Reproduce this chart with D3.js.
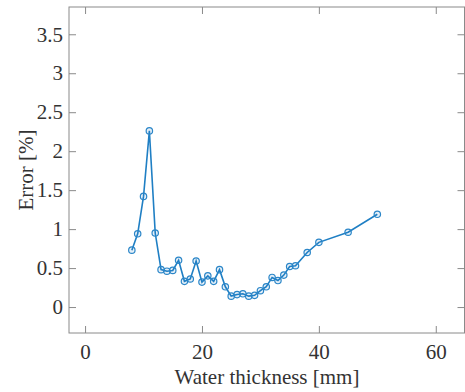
<!DOCTYPE html>
<html>
<head>
<meta charset="utf-8">
<script src="https://cdn.jsdelivr.net/npm/d3@7"></script>
<style>
  body { margin: 0; background: #fff; }
  svg text { font-family: "Liberation Serif", "DejaVu Serif", serif !important; fill: #333; }
</style>
</head>
<body>
<script>
// data
var thickness = [8, 9, 10, 11, 12, 13, 14, 15, 16, 17, 18, 19, 20, 21, 22, 23, 24,
                 25, 26, 27, 28, 29, 30, 31, 32, 33, 34, 35, 36, 38, 40, 45, 50];
var errorPct = [0.73, 0.94, 1.42, 2.26, 0.95, 0.48, 0.46, 0.47, 0.60, 0.33, 0.36, 0.59, 0.32, 0.40, 0.33, 0.48, 0.26,
                0.14, 0.16, 0.17, 0.14, 0.15, 0.21, 0.26, 0.38, 0.34, 0.41, 0.52, 0.53, 0.70, 0.83, 0.96, 1.19];
var xTicks = [0, 20, 40, 60];
var yTicks = [0, 0.5, 1, 1.5, 2, 2.5, 3, 3.5];

var W = 465, H = 392;
// plot box edges in pixels
var box = {left: 69, right: 465, top: 7, bottom: 333};
var serif = 'Liberation Serif';

var svg = d3.select('body')
  .append('svg')
    .attr('width', W)
    .attr('height', H);

var x = d3.scaleLinear().domain([-2.75, 65]).range([box.left, box.right]);
var y = d3.scaleLinear().domain([-0.333, 3.85]).range([box.bottom, box.top]);

var axisColor = '#8a8a8a';
var tickLen = 7;
var fmt = d3.format('~g');

// box
svg.append('rect')
  .attr('x', box.left).attr('y', box.top)
  .attr('width', box.right - box.left - 0.5).attr('height', box.bottom - box.top)
  .attr('fill', 'none')
  .attr('stroke', axisColor)
  .attr('stroke-width', 1);

// bottom axis, ticks inward
var gx = svg.append('g')
  .attr('transform', 'translate(0,' + box.bottom + ')')
  .call(d3.axisBottom(x).tickValues(xTicks).tickFormat(fmt).tickSizeInner(-tickLen).tickSizeOuter(0).tickPadding(11))
  .attr('font-family', serif)
  .attr('font-size', 21);
gx.select('.domain').remove();
gx.selectAll('line').attr('stroke', axisColor);
gx.selectAll('text').attr('fill', '#333').style('font-family', serif);

// top ticks
var gxt = svg.append('g')
  .attr('transform', 'translate(0,' + box.top + ')')
  .call(d3.axisTop(x).tickValues(xTicks).tickSizeInner(-tickLen).tickSizeOuter(0).tickFormat(''));
gxt.select('.domain').remove();
gxt.selectAll('line').attr('stroke', axisColor);

// left axis
var gy = svg.append('g')
  .attr('transform', 'translate(' + box.left + ',0)')
  .call(d3.axisLeft(y).tickValues(yTicks).tickFormat(fmt).tickSizeInner(-tickLen).tickSizeOuter(0).tickPadding(6))
  .attr('font-family', serif)
  .attr('font-size', 21);
gy.select('.domain').remove();
gy.selectAll('line').attr('stroke', axisColor);
gy.selectAll('text').attr('fill', '#333').style('font-family', serif);

// right ticks
var gyr = svg.append('g')
  .attr('transform', 'translate(' + (box.right - 0.5) + ',0)')
  .call(d3.axisRight(y).tickValues(yTicks).tickSizeInner(-tickLen).tickSizeOuter(0).tickFormat(''));
gyr.select('.domain').remove();
gyr.selectAll('line').attr('stroke', axisColor);

// axis titles
svg.append('text')
  .attr('x', (box.left + box.right) / 2)
  .attr('y', 384)
  .attr('text-anchor', 'middle')
  .attr('font-size', 21)
  .text('Water thickness [mm]');

svg.append('text')
  .attr('transform', 'translate(33,' + ((box.top + box.bottom) / 2) + ') rotate(-90)')
  .attr('text-anchor', 'middle')
  .attr('font-size', 21)
  .text('Error [%]');

// series
var pts = thickness.map(function(d, i) { return [d, errorPct[i]]; });
var line = d3.line()
  .x(function(d) { return x(d[0]); })
  .y(function(d) { return y(d[1]); });

svg.append('path')
  .datum(pts)
  .attr('d', line)
  .attr('fill', 'none')
  .attr('stroke', '#1f7fc4')
  .attr('stroke-width', 1.6);

svg.selectAll('circle.pt')
  .data(pts)
  .enter()
  .append('circle')
    .attr('class', 'pt')
    .attr('cx', function(d) { return x(d[0]); })
    .attr('cy', function(d) { return y(d[1]); })
    .attr('r', 3.2)
    .attr('fill', 'rgba(31,127,196,0.12)')
    .attr('stroke', '#2b86c8')
    .attr('stroke-width', 1.2);
</script>
</body>
</html>
